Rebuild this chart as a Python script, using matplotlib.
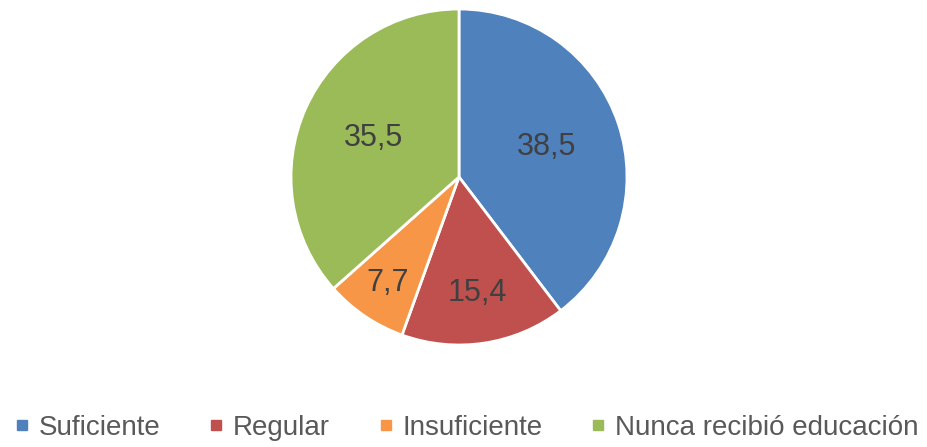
import matplotlib.pyplot as plt
from matplotlib.lines import Line2D
import numpy as np

categories = ["Suficiente", "Regular", "Insuficiente", "Nunca recibió educación"]
values = [38.5, 15.4, 7.7, 35.5]
value_labels = ["38,5", "15,4", "7,7", "35,5"]
colors = ["#4F81BD", "#C0504D", "#F79646", "#9BBB59"]
label_dist = [0.55, 0.70, 0.76, 0.56]  # where each number sits, as fraction of radius

plt.rcParams['font.family'] = ['Liberation Sans', 'DejaVu Sans']

fig = plt.figure(figsize=(9.27, 4.47), dpi=100)
W, H = 927, 447
cx, cy, r = 459, 177, 168
ax = fig.add_axes([(cx - r) / W, (H - cy - r) / H, 2 * r / W, 2 * r / H])

wedges, _ = ax.pie(values, colors=colors, startangle=90, counterclock=False,
                   wedgeprops=dict(edgecolor="white", linewidth=2.0))
ax.set_xlim(-1, 1)
ax.set_ylim(-1, 1)
ax.set_aspect("equal")
ax.axis("off")

for w, lab, d in zip(wedges, value_labels, label_dist):
    ang = np.deg2rad((w.theta1 + w.theta2) / 2)
    ax.text(d * np.cos(ang), d * np.sin(ang), lab, ha="center", va="center",
            fontsize=22, color="#404040")

handles = [Line2D([], [], marker="s", linestyle="none", markersize=6.5,
                  markerfacecolor=c, markeredgecolor=c) for c in colors]
fig.legend(handles, categories, loc="center", bbox_to_anchor=(466 / W, 1 - 428 / H),
           ncol=4, frameon=False, fontsize=20, labelcolor="#595959",
           handlelength=0.6, handletextpad=0.3, columnspacing=1.7)

fig.savefig("out.png", dpi=100)
